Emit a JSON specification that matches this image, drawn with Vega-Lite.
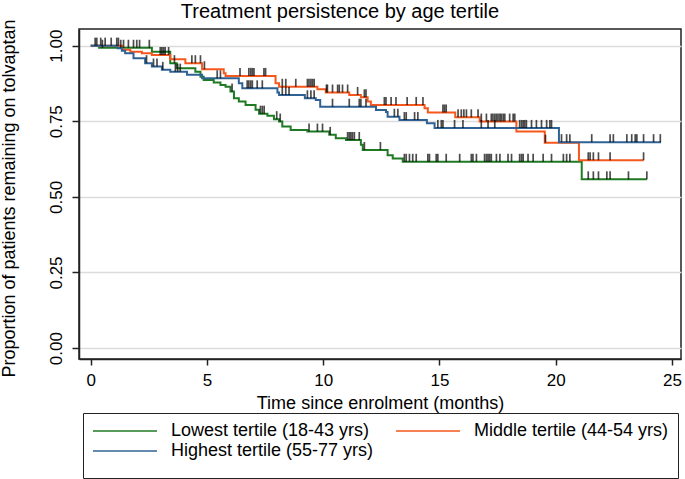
{
  "$schema": "https://vega.github.io/schema/vega-lite/v6.json",
  "autosize": "none",
  "width": 602,
  "height": 330,
  "padding": {"left": 79, "top": 29, "right": 4, "bottom": 120},
  "background": "white",
  "config": {
    "font": "Liberation Sans",
    "view": {"stroke": "#222222", "strokeWidth": 1.5},
    "axis": {
      "domainColor": "#222222", "domainWidth": 1.5,
      "tickColor": "#222222", "tickWidth": 1.5,
      "labelColor": "black", "titleColor": "black",
      "labelFont": "Liberation Sans", "titleFont": "Liberation Sans",
      "labelFontSize": 17, "titleFontSize": 18, "titleFontWeight": "normal"
    }
  },
  "title": {
    "text": "Treatment persistence by age tertile",
    "font": "Liberation Sans",
    "fontSize": 20,
    "fontWeight": "normal",
    "color": "black",
    "anchor": "middle",
    "frame": "group",
    "dx": -40,
    "dy": 9,
    "offset": 6
  },
  "datasets": {
    "curves": [
      {"g": "Lowest tertile (18-43 yrs)", "t": 0, "s": 1},
      {"g": "Lowest tertile (18-43 yrs)", "t": 0.36, "s": 0.993},
      {"g": "Lowest tertile (18-43 yrs)", "t": 2.63, "s": 0.98},
      {"g": "Lowest tertile (18-43 yrs)", "t": 3.42, "s": 0.942},
      {"g": "Lowest tertile (18-43 yrs)", "t": 3.7, "s": 0.925},
      {"g": "Lowest tertile (18-43 yrs)", "t": 4.5, "s": 0.914},
      {"g": "Lowest tertile (18-43 yrs)", "t": 4.72, "s": 0.897},
      {"g": "Lowest tertile (18-43 yrs)", "t": 4.86, "s": 0.886},
      {"g": "Lowest tertile (18-43 yrs)", "t": 5.29, "s": 0.878},
      {"g": "Lowest tertile (18-43 yrs)", "t": 5.58, "s": 0.87},
      {"g": "Lowest tertile (18-43 yrs)", "t": 5.8, "s": 0.864},
      {"g": "Lowest tertile (18-43 yrs)", "t": 6.01, "s": 0.848},
      {"g": "Lowest tertile (18-43 yrs)", "t": 6.16, "s": 0.826},
      {"g": "Lowest tertile (18-43 yrs)", "t": 6.37, "s": 0.815},
      {"g": "Lowest tertile (18-43 yrs)", "t": 6.66, "s": 0.804},
      {"g": "Lowest tertile (18-43 yrs)", "t": 7.09, "s": 0.788},
      {"g": "Lowest tertile (18-43 yrs)", "t": 7.24, "s": 0.775},
      {"g": "Lowest tertile (18-43 yrs)", "t": 7.6, "s": 0.768},
      {"g": "Lowest tertile (18-43 yrs)", "t": 7.88, "s": 0.757},
      {"g": "Lowest tertile (18-43 yrs)", "t": 8.1, "s": 0.749},
      {"g": "Lowest tertile (18-43 yrs)", "t": 8.24, "s": 0.733},
      {"g": "Lowest tertile (18-43 yrs)", "t": 8.6, "s": 0.721},
      {"g": "Lowest tertile (18-43 yrs)", "t": 9.32, "s": 0.716},
      {"g": "Lowest tertile (18-43 yrs)", "t": 10.26, "s": 0.705},
      {"g": "Lowest tertile (18-43 yrs)", "t": 10.54, "s": 0.694},
      {"g": "Lowest tertile (18-43 yrs)", "t": 10.98, "s": 0.688},
      {"g": "Lowest tertile (18-43 yrs)", "t": 11.62, "s": 0.672},
      {"g": "Lowest tertile (18-43 yrs)", "t": 11.7, "s": 0.655},
      {"g": "Lowest tertile (18-43 yrs)", "t": 12.77, "s": 0.638},
      {"g": "Lowest tertile (18-43 yrs)", "t": 12.99, "s": 0.627},
      {"g": "Lowest tertile (18-43 yrs)", "t": 13.42, "s": 0.616},
      {"g": "Lowest tertile (18-43 yrs)", "t": 21.12, "s": 0.558},
      {"g": "Lowest tertile (18-43 yrs)", "t": 23.92, "s": 0.558},
      {"g": "Middle tertile (44-54 yrs)", "t": 0, "s": 1},
      {"g": "Middle tertile (44-54 yrs)", "t": 1.34, "s": 0.986},
      {"g": "Middle tertile (44-54 yrs)", "t": 1.7, "s": 0.98},
      {"g": "Middle tertile (44-54 yrs)", "t": 2.2, "s": 0.975},
      {"g": "Middle tertile (44-54 yrs)", "t": 2.63, "s": 0.969},
      {"g": "Middle tertile (44-54 yrs)", "t": 3.42, "s": 0.955},
      {"g": "Middle tertile (44-54 yrs)", "t": 4.07, "s": 0.942},
      {"g": "Middle tertile (44-54 yrs)", "t": 4.79, "s": 0.922},
      {"g": "Middle tertile (44-54 yrs)", "t": 5.72, "s": 0.909},
      {"g": "Middle tertile (44-54 yrs)", "t": 5.8, "s": 0.9},
      {"g": "Middle tertile (44-54 yrs)", "t": 7.95, "s": 0.876},
      {"g": "Middle tertile (44-54 yrs)", "t": 8.1, "s": 0.864},
      {"g": "Middle tertile (44-54 yrs)", "t": 9.75, "s": 0.856},
      {"g": "Middle tertile (44-54 yrs)", "t": 10.11, "s": 0.845},
      {"g": "Middle tertile (44-54 yrs)", "t": 11.12, "s": 0.837},
      {"g": "Middle tertile (44-54 yrs)", "t": 11.62, "s": 0.829},
      {"g": "Middle tertile (44-54 yrs)", "t": 11.91, "s": 0.815},
      {"g": "Middle tertile (44-54 yrs)", "t": 12.05, "s": 0.804},
      {"g": "Middle tertile (44-54 yrs)", "t": 14.36, "s": 0.793},
      {"g": "Middle tertile (44-54 yrs)", "t": 14.5, "s": 0.779},
      {"g": "Middle tertile (44-54 yrs)", "t": 15.68, "s": 0.763},
      {"g": "Middle tertile (44-54 yrs)", "t": 16.73, "s": 0.749},
      {"g": "Middle tertile (44-54 yrs)", "t": 18.31, "s": 0.716},
      {"g": "Middle tertile (44-54 yrs)", "t": 19.53, "s": 0.679},
      {"g": "Middle tertile (44-54 yrs)", "t": 21.0, "s": 0.621},
      {"g": "Middle tertile (44-54 yrs)", "t": 23.78, "s": 0.621},
      {"g": "Highest tertile (55-77 yrs)", "t": 0, "s": 1},
      {"g": "Highest tertile (55-77 yrs)", "t": 1.15, "s": 0.991},
      {"g": "Highest tertile (55-77 yrs)", "t": 1.34, "s": 0.983},
      {"g": "Highest tertile (55-77 yrs)", "t": 1.48, "s": 0.975},
      {"g": "Highest tertile (55-77 yrs)", "t": 1.84, "s": 0.958},
      {"g": "Highest tertile (55-77 yrs)", "t": 2.34, "s": 0.942},
      {"g": "Highest tertile (55-77 yrs)", "t": 2.63, "s": 0.931},
      {"g": "Highest tertile (55-77 yrs)", "t": 3.06, "s": 0.92},
      {"g": "Highest tertile (55-77 yrs)", "t": 3.42, "s": 0.914},
      {"g": "Highest tertile (55-77 yrs)", "t": 4.14, "s": 0.904},
      {"g": "Highest tertile (55-77 yrs)", "t": 4.79, "s": 0.892},
      {"g": "Highest tertile (55-77 yrs)", "t": 6.37, "s": 0.876},
      {"g": "Highest tertile (55-77 yrs)", "t": 6.52, "s": 0.859},
      {"g": "Highest tertile (55-77 yrs)", "t": 8.03, "s": 0.845},
      {"g": "Highest tertile (55-77 yrs)", "t": 8.1, "s": 0.837},
      {"g": "Highest tertile (55-77 yrs)", "t": 9.21, "s": 0.826},
      {"g": "Highest tertile (55-77 yrs)", "t": 9.68, "s": 0.82},
      {"g": "Highest tertile (55-77 yrs)", "t": 9.87, "s": 0.798},
      {"g": "Highest tertile (55-77 yrs)", "t": 12.27, "s": 0.787},
      {"g": "Highest tertile (55-77 yrs)", "t": 12.7, "s": 0.781},
      {"g": "Highest tertile (55-77 yrs)", "t": 12.77, "s": 0.765},
      {"g": "Highest tertile (55-77 yrs)", "t": 13.28, "s": 0.754},
      {"g": "Highest tertile (55-77 yrs)", "t": 14.46, "s": 0.743},
      {"g": "Highest tertile (55-77 yrs)", "t": 14.79, "s": 0.728},
      {"g": "Highest tertile (55-77 yrs)", "t": 20.14, "s": 0.681},
      {"g": "Highest tertile (55-77 yrs)", "t": 24.53, "s": 0.681}
    ],
    "censor": [
      {"g": "H", "t": 0.19, "s": 1}, {"g": "H", "t": 0.43, "s": 1}, {"g": "H", "t": 0.88, "s": 1},
      {"g": "H", "t": 2.4, "s": 0.942}, {"g": "H", "t": 2.7, "s": 0.931}, {"g": "H", "t": 2.85, "s": 0.931},
      {"g": "H", "t": 3.1, "s": 0.92}, {"g": "H", "t": 3.64, "s": 0.914}, {"g": "H", "t": 3.74, "s": 0.914},
      {"g": "H", "t": 3.85, "s": 0.914}, {"g": "H", "t": 5.44, "s": 0.892}, {"g": "H", "t": 5.58, "s": 0.892},
      {"g": "H", "t": 6.73, "s": 0.859}, {"g": "H", "t": 6.8, "s": 0.859}, {"g": "H", "t": 6.88, "s": 0.859},
      {"g": "H", "t": 6.95, "s": 0.859}, {"g": "H", "t": 7.16, "s": 0.859}, {"g": "H", "t": 7.38, "s": 0.859},
      {"g": "H", "t": 8.24, "s": 0.837}, {"g": "H", "t": 8.39, "s": 0.837}, {"g": "H", "t": 8.53, "s": 0.837},
      {"g": "H", "t": 9.32, "s": 0.826}, {"g": "H", "t": 9.47, "s": 0.826}, {"g": "H", "t": 9.61, "s": 0.826},
      {"g": "H", "t": 10.4, "s": 0.798}, {"g": "H", "t": 11.12, "s": 0.798}, {"g": "H", "t": 11.55, "s": 0.798},
      {"g": "H", "t": 11.62, "s": 0.798}, {"g": "H", "t": 11.84, "s": 0.798}, {"g": "H", "t": 13.06, "s": 0.765},
      {"g": "H", "t": 13.21, "s": 0.765}, {"g": "H", "t": 13.49, "s": 0.754}, {"g": "H", "t": 13.57, "s": 0.754},
      {"g": "H", "t": 13.93, "s": 0.754}, {"g": "H", "t": 14.07, "s": 0.754}, {"g": "H", "t": 14.93, "s": 0.728},
      {"g": "H", "t": 15.08, "s": 0.728}, {"g": "H", "t": 15.15, "s": 0.728}, {"g": "H", "t": 15.65, "s": 0.728},
      {"g": "H", "t": 16.01, "s": 0.728}, {"g": "H", "t": 16.8, "s": 0.728}, {"g": "H", "t": 17.09, "s": 0.728},
      {"g": "H", "t": 17.38, "s": 0.728}, {"g": "H", "t": 18.45, "s": 0.728}, {"g": "H", "t": 18.53, "s": 0.728},
      {"g": "H", "t": 18.6, "s": 0.728}, {"g": "H", "t": 18.67, "s": 0.728}, {"g": "H", "t": 18.74, "s": 0.728},
      {"g": "H", "t": 18.96, "s": 0.728}, {"g": "H", "t": 19.17, "s": 0.728}, {"g": "H", "t": 19.39, "s": 0.728},
      {"g": "H", "t": 19.61, "s": 0.728}, {"g": "H", "t": 19.75, "s": 0.728}, {"g": "H", "t": 19.82, "s": 0.728},
      {"g": "H", "t": 20.25, "s": 0.681}, {"g": "H", "t": 20.47, "s": 0.681}, {"g": "H", "t": 20.61, "s": 0.681},
      {"g": "H", "t": 21.55, "s": 0.681}, {"g": "H", "t": 22.34, "s": 0.681}, {"g": "H", "t": 22.48, "s": 0.681},
      {"g": "H", "t": 23.06, "s": 0.681}, {"g": "H", "t": 23.27, "s": 0.681}, {"g": "H", "t": 23.42, "s": 0.681},
      {"g": "H", "t": 23.49, "s": 0.681}, {"g": "H", "t": 23.78, "s": 0.681}, {"g": "H", "t": 24.21, "s": 0.681},
      {"g": "H", "t": 24.5, "s": 0.681},
      {"g": "M", "t": 0.26, "s": 1}, {"g": "M", "t": 0.62, "s": 1}, {"g": "M", "t": 1.12, "s": 1},
      {"g": "M", "t": 1.19, "s": 1}, {"g": "M", "t": 2.99, "s": 0.969}, {"g": "M", "t": 3.06, "s": 0.969},
      {"g": "M", "t": 3.13, "s": 0.969}, {"g": "M", "t": 3.2, "s": 0.969}, {"g": "M", "t": 3.35, "s": 0.969},
      {"g": "M", "t": 4.35, "s": 0.942}, {"g": "M", "t": 4.5, "s": 0.942}, {"g": "M", "t": 4.72, "s": 0.942},
      {"g": "M", "t": 4.89, "s": 0.922}, {"g": "M", "t": 6.42, "s": 0.9}, {"g": "M", "t": 6.8, "s": 0.9},
      {"g": "M", "t": 6.88, "s": 0.9}, {"g": "M", "t": 6.95, "s": 0.9}, {"g": "M", "t": 7.02, "s": 0.9},
      {"g": "M", "t": 7.45, "s": 0.9}, {"g": "M", "t": 7.52, "s": 0.9}, {"g": "M", "t": 8.24, "s": 0.864},
      {"g": "M", "t": 8.39, "s": 0.864}, {"g": "M", "t": 8.82, "s": 0.864}, {"g": "M", "t": 9.32, "s": 0.864},
      {"g": "M", "t": 9.39, "s": 0.864}, {"g": "M", "t": 9.47, "s": 0.864}, {"g": "M", "t": 9.54, "s": 0.864},
      {"g": "M", "t": 9.61, "s": 0.864}, {"g": "M", "t": 10.14, "s": 0.845}, {"g": "M", "t": 10.18, "s": 0.845},
      {"g": "M", "t": 10.4, "s": 0.845}, {"g": "M", "t": 10.62, "s": 0.845}, {"g": "M", "t": 10.69, "s": 0.845},
      {"g": "M", "t": 10.83, "s": 0.845}, {"g": "M", "t": 11.05, "s": 0.845}, {"g": "M", "t": 11.48, "s": 0.837},
      {"g": "M", "t": 11.77, "s": 0.829}, {"g": "M", "t": 11.84, "s": 0.829}, {"g": "M", "t": 12.63, "s": 0.804},
      {"g": "M", "t": 12.7, "s": 0.804}, {"g": "M", "t": 12.92, "s": 0.804}, {"g": "M", "t": 13.13, "s": 0.804},
      {"g": "M", "t": 13.61, "s": 0.804}, {"g": "M", "t": 14.0, "s": 0.804}, {"g": "M", "t": 14.29, "s": 0.804},
      {"g": "M", "t": 15.15, "s": 0.779}, {"g": "M", "t": 15.22, "s": 0.779}, {"g": "M", "t": 15.29, "s": 0.779},
      {"g": "M", "t": 15.8, "s": 0.763}, {"g": "M", "t": 15.94, "s": 0.763}, {"g": "M", "t": 16.05, "s": 0.763},
      {"g": "M", "t": 16.16, "s": 0.763}, {"g": "M", "t": 16.37, "s": 0.763}, {"g": "M", "t": 16.66, "s": 0.763},
      {"g": "M", "t": 16.8, "s": 0.749}, {"g": "M", "t": 17.02, "s": 0.749}, {"g": "M", "t": 17.23, "s": 0.749},
      {"g": "M", "t": 17.3, "s": 0.749}, {"g": "M", "t": 17.38, "s": 0.749}, {"g": "M", "t": 17.45, "s": 0.749},
      {"g": "M", "t": 17.52, "s": 0.749}, {"g": "M", "t": 17.6, "s": 0.749}, {"g": "M", "t": 17.66, "s": 0.749},
      {"g": "M", "t": 17.74, "s": 0.749}, {"g": "M", "t": 17.81, "s": 0.749}, {"g": "M", "t": 18.02, "s": 0.749},
      {"g": "M", "t": 18.17, "s": 0.749}, {"g": "M", "t": 18.24, "s": 0.749}, {"g": "M", "t": 19.56, "s": 0.679},
      {"g": "M", "t": 21.4, "s": 0.621}, {"g": "M", "t": 21.48, "s": 0.621}, {"g": "M", "t": 21.62, "s": 0.621},
      {"g": "M", "t": 21.84, "s": 0.621}, {"g": "M", "t": 22.34, "s": 0.621}, {"g": "M", "t": 23.78, "s": 0.621},
      {"g": "L", "t": 0.5, "s": 0.993}, {"g": "L", "t": 1.29, "s": 0.993}, {"g": "L", "t": 1.41, "s": 0.993},
      {"g": "L", "t": 1.62, "s": 0.993}, {"g": "L", "t": 1.84, "s": 0.993}, {"g": "L", "t": 1.98, "s": 0.993},
      {"g": "L", "t": 2.1, "s": 0.993}, {"g": "L", "t": 2.52, "s": 0.993}, {"g": "L", "t": 3.6, "s": 0.942},
      {"g": "L", "t": 6.08, "s": 0.848}, {"g": "L", "t": 7.3, "s": 0.775}, {"g": "L", "t": 7.38, "s": 0.775},
      {"g": "L", "t": 7.46, "s": 0.775}, {"g": "L", "t": 8.0, "s": 0.757}, {"g": "L", "t": 8.15, "s": 0.749},
      {"g": "L", "t": 9.39, "s": 0.716}, {"g": "L", "t": 9.75, "s": 0.716}, {"g": "L", "t": 9.97, "s": 0.716},
      {"g": "L", "t": 10.3, "s": 0.705}, {"g": "L", "t": 11.05, "s": 0.688}, {"g": "L", "t": 11.12, "s": 0.688},
      {"g": "L", "t": 11.19, "s": 0.688}, {"g": "L", "t": 11.26, "s": 0.688}, {"g": "L", "t": 11.34, "s": 0.688},
      {"g": "L", "t": 11.55, "s": 0.688}, {"g": "L", "t": 11.77, "s": 0.655}, {"g": "L", "t": 12.46, "s": 0.655},
      {"g": "L", "t": 13.49, "s": 0.616}, {"g": "L", "t": 13.57, "s": 0.616}, {"g": "L", "t": 13.71, "s": 0.616},
      {"g": "L", "t": 13.85, "s": 0.616}, {"g": "L", "t": 14.0, "s": 0.616}, {"g": "L", "t": 14.5, "s": 0.616},
      {"g": "L", "t": 14.57, "s": 0.616}, {"g": "L", "t": 14.86, "s": 0.616}, {"g": "L", "t": 14.93, "s": 0.616},
      {"g": "L", "t": 15.29, "s": 0.616}, {"g": "L", "t": 15.87, "s": 0.616}, {"g": "L", "t": 16.37, "s": 0.616},
      {"g": "L", "t": 16.44, "s": 0.616}, {"g": "L", "t": 16.59, "s": 0.616}, {"g": "L", "t": 16.94, "s": 0.616},
      {"g": "L", "t": 17.02, "s": 0.616}, {"g": "L", "t": 17.09, "s": 0.616}, {"g": "L", "t": 17.16, "s": 0.616},
      {"g": "L", "t": 17.23, "s": 0.616}, {"g": "L", "t": 17.45, "s": 0.616}, {"g": "L", "t": 17.6, "s": 0.616},
      {"g": "L", "t": 17.95, "s": 0.616}, {"g": "L", "t": 18.1, "s": 0.616}, {"g": "L", "t": 18.45, "s": 0.616},
      {"g": "L", "t": 18.53, "s": 0.616}, {"g": "L", "t": 18.6, "s": 0.616}, {"g": "L", "t": 18.81, "s": 0.616},
      {"g": "L", "t": 19.03, "s": 0.616}, {"g": "L", "t": 19.46, "s": 0.616}, {"g": "L", "t": 19.82, "s": 0.616},
      {"g": "L", "t": 20.33, "s": 0.616}, {"g": "L", "t": 20.47, "s": 0.616}, {"g": "L", "t": 20.61, "s": 0.616},
      {"g": "L", "t": 21.4, "s": 0.558}, {"g": "L", "t": 21.62, "s": 0.558}, {"g": "L", "t": 21.84, "s": 0.558},
      {"g": "L", "t": 22.2, "s": 0.558}, {"g": "L", "t": 22.34, "s": 0.558}, {"g": "L", "t": 23.13, "s": 0.558},
      {"g": "L", "t": 23.92, "s": 0.558}
    ]
  },
  "encoding": {
    "x": {
      "field": "t", "type": "quantitative",
      "scale": {"domain": [-0.505, 25.39], "nice": false, "zero": false},
      "axis": {
        "values": [0, 5, 10, 15, 20, 25],
        "title": "Time since enrolment (months)",
        "grid": false, "tickSize": 6, "labelPadding": 7, "titlePadding": 6, "labelFlush": false
      }
    },
    "y": {
      "field": "s", "type": "quantitative",
      "scale": {"domain": [-0.036, 1.055], "nice": false, "zero": false},
      "axis": {
        "values": [0, 0.25, 0.5, 0.75, 1],
        "format": ".2f",
        "title": "Proportion of patients remaining on tolvaptan",
        "grid": true, "gridColor": "#dcdcdc", "gridWidth": 1.5,
        "tickSize": 7, "labelAngle": 270, "labelAlign": "center", "labelBaseline": "bottom",
        "labelPadding": 7, "labelFlush": false,
        "titleX": -61, "titleY": 169
      }
    }
  },
  "layer": [
    {
      "data": {"name": "curves"},
      "mark": {"type": "line", "interpolate": "step-after", "strokeWidth": 2},
      "encoding": {
        "color": {
          "field": "g", "type": "nominal",
          "scale": {
            "domain": ["Lowest tertile (18-43 yrs)", "Middle tertile (44-54 yrs)", "Highest tertile (55-77 yrs)"],
            "range": ["#1f7a24", "#f5571c", "#2f6294"]
          },
          "legend": {
            "orient": "none", "legendX": 4, "legendY": 384,
            "direction": "horizontal", "columns": 2,
            "title": " ", "titleOrient": "bottom", "titleFontSize": 9, "titlePadding": 0,
            "symbolType": "M-4,0H4", "symbolSize": 256, "symbolStrokeWidth": 1.6,
            "symbolOffset": 24,
            "labelFont": "Liberation Sans", "labelFontSize": 18, "labelColor": "black",
            "labelOffset": 37, "labelLimit": 400,
            "columnPadding": 18, "rowPadding": 2, "padding": 9,
            "strokeColor": "#222222", "fillColor": "white"
          }
        },
        "order": {"field": "t", "type": "quantitative"}
      }
    },
    {
      "data": {"name": "censor"},
      "mark": {"type": "tick", "orient": "vertical", "color": "black", "size": 8, "thickness": 1.7, "yOffset": -4}
    }
  ]
}
